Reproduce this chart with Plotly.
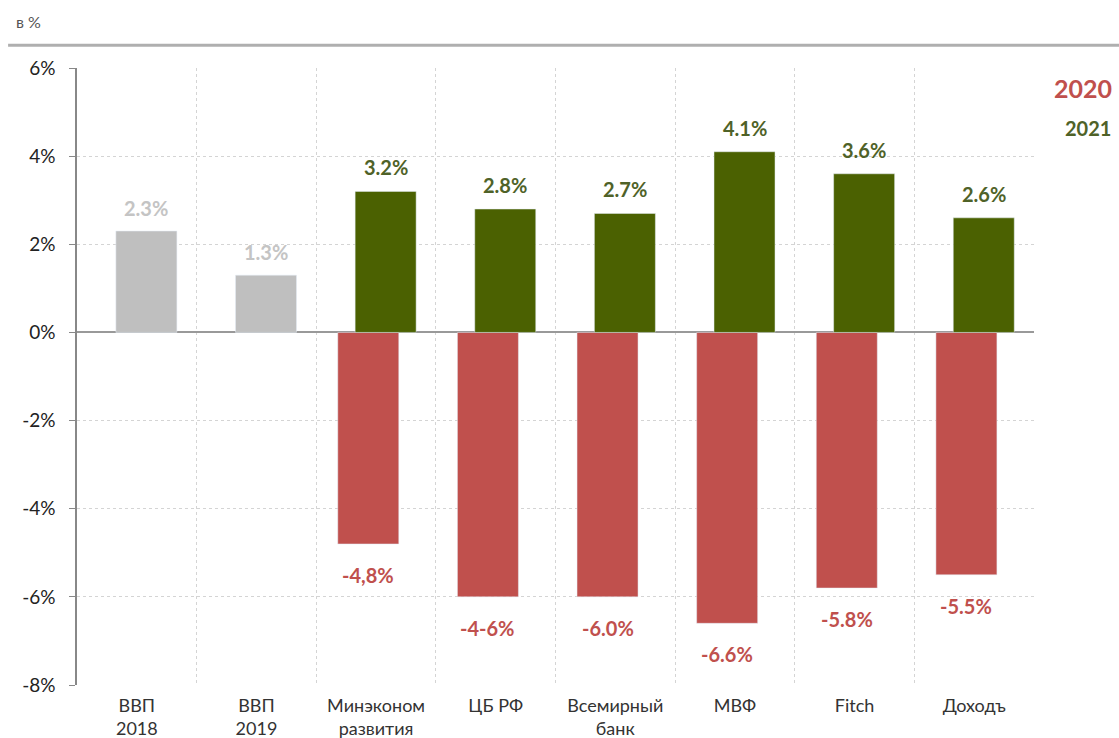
import plotly.graph_objects as go

# ---- data ----
categories = ["ВВП<br>2018", "ВВП<br>2019", "Минэконом<br>развития", "ЦБ РФ",
              "Всемирный<br>банк", "МВФ", "Fitch", "Доходъ"]
hist_cats = categories[:2]
hist_vals = [2.3, 1.3]
fc_cats = categories[2:]
vals_2020 = [-4.8, -6.0, -6.0, -6.6, -5.8, -5.5]
labels_2020 = ["-4,8%", "-4-6%", "-6.0%", "-6.6%", "-5.8%", "-5.5%"]
vals_2021 = [3.2, 2.8, 2.7, 4.1, 3.6, 2.6]
y_ticks = [-8, -6, -4, -2, 0, 2, 4, 6]

# ---- style ----
W, H = 1119, 738
ML, MR, MT, MB = 77, 85, 68, 53
GREEN = "#4B6101"
GREEN_TXT = "#4F6228"
RED = "#C0504D"
GRAY = "#BFBFBF"
GRAY_TXT = "#C4C4C4"
FONT = "Lato"
BW = 0.51            # bar width in category units
SHIFT_R = 0.08       # offset of 2021/history bars
SHIFT_L = -0.065     # offset of 2020 bars
cat_px = (W - ML - MR) / len(categories)

fig = go.Figure()
fig.add_trace(go.Bar(x=hist_cats, y=hist_vals, marker_color=GRAY, width=BW,
                     offset=-BW / 2 + SHIFT_R, showlegend=False, hoverinfo="skip"))
fig.add_trace(go.Bar(x=fc_cats, y=vals_2020, marker_color=RED, width=BW,
                     offset=-BW / 2 + SHIFT_L, name="2020", showlegend=False))
fig.add_trace(go.Bar(x=fc_cats, y=vals_2021, marker_color=GREEN, width=BW,
                     offset=-BW / 2 + SHIFT_R, name="2021", showlegend=False))

ann = []
lab_font = dict(family=FONT, size=20)
for c, v in zip(hist_cats, hist_vals):
    ann.append(dict(x=c, y=v, text=f"<b>{v:.1f}%</b>", showarrow=False, yshift=23,
                    xshift=SHIFT_R * cat_px, font=dict(lab_font, color=GRAY_TXT)))
for c, v in zip(fc_cats, vals_2021):
    ann.append(dict(x=c, y=v, text=f"<b>{v:.1f}%</b>", showarrow=False, yshift=24,
                    xshift=SHIFT_R * cat_px, font=dict(lab_font, color=GREEN_TXT)))
for c, v, t in zip(fc_cats, vals_2020, labels_2020):
    ann.append(dict(x=c, y=v, text=f"<b>{t}</b>", showarrow=False, yshift=-31,
                    xshift=SHIFT_L * cat_px, font=dict(lab_font, color=RED)))

# legend-like year labels
ann.append(dict(xref="paper", yref="paper", x=1.051, y=0.968, text="<b>2020</b>",
                xanchor="center", yanchor="middle",
                showarrow=False, font=dict(family=FONT, size=25, color=RED)))
ann.append(dict(xref="paper", yref="paper", x=1.056, y=0.903, text="<b>2021</b>",
                xanchor="center", yanchor="middle",
                showarrow=False, font=dict(family=FONT, size=20, color=GREEN_TXT)))
# unit label
ann.append(dict(xref="paper", yref="paper", x=-0.066, y=1.075, xanchor="left",
                yanchor="middle", text="в %", showarrow=False,
                font=dict(family=FONT, size=16, color="#555555")))

fig.update_layout(
    width=W, height=H,
    margin=dict(l=ML, r=MR, t=MT, b=MB, autoexpand=False),
    plot_bgcolor="white", paper_bgcolor="white",
    barmode="overlay",
    annotations=ann,
    shapes=[dict(type="line", xref="paper", yref="paper", x0=-0.072, x1=1.1,
                 y0=1.037, y1=1.037, line=dict(color="#AFAFAF", width=3))],
    font=dict(family=FONT, color="#333333"),
)
fig.update_xaxes(type="category", categoryorder="array", categoryarray=categories,
                 tickson="boundaries", showgrid=True, gridcolor="#D4D4D4",
                 griddash="dot", gridwidth=1, ticks="", showline=False,
                 automargin=False, ticklabelstandoff=8,
                 tickfont=dict(family=FONT, size=18, color="#333333"))
fig.update_yaxes(range=[-8, 6], tickvals=y_ticks, ticktext=[f"{t}%" for t in y_ticks],
                 showgrid=True, gridcolor="#D4D4D4", griddash="dot",
                 zeroline=True, zerolinecolor="#999999", zerolinewidth=1.5,
                 showline=True, linecolor="#888888", linewidth=1.5,
                 ticks="outside", ticklen=6, tickcolor="#888888", automargin=False,
                 ticklabelstandoff=10,
                 tickfont=dict(family=FONT, size=19, color="#222222"))

fig.write_html("out.html", config={"displayModeBar": False},
               post_script="document.body.style.margin='0';document.body.style.overflow='hidden';")
